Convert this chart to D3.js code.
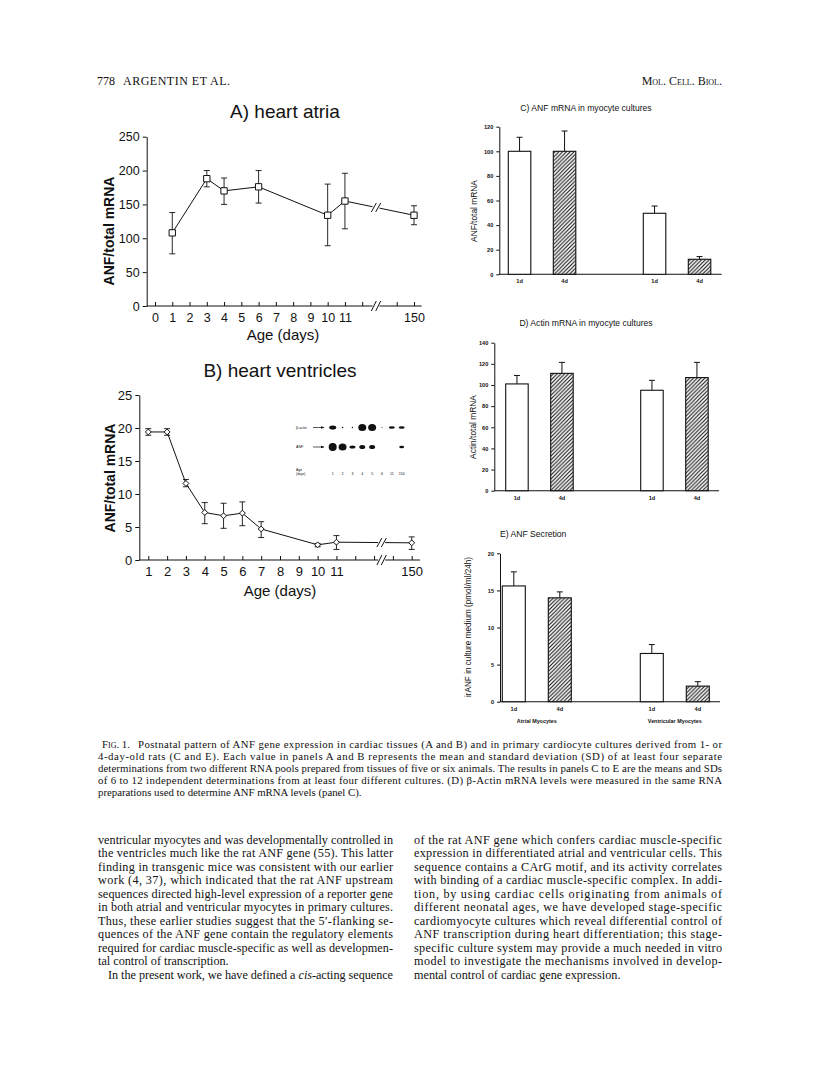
<!DOCTYPE html>
<html>
<head>
<meta charset="utf-8">
<script src="https://cdn.jsdelivr.net/npm/d3@7"></script>
<style>
    body { margin: 0; background: #fff; }
    svg { display: block; }
</style>
</head>
<body>
<svg id="page" width="816" height="1069"></svg>
<script>
'use strict';

// ---- data -------------------------------------------------------------

// A) heart atria
const atriaDays = [1, 3, 4, 6, 10, 11, 150];
const atriaMean = [108, 188, 170, 176, 134, 155, 134];
const atriaLow = [77, 176, 150, 152, 89, 114, 120];
const atriaHigh = [138, 200, 189, 200, 180, 196, 148];
const atriaTickDays = [0, 1, 2, 3, 4, 5, 6, 7, 8, 9, 10, 11, 150];
const atriaYTicks = [0, 50, 100, 150, 200, 250];

// B) heart ventricles
const ventDays = [1, 2, 3, 4, 5, 6, 7, 10, 11, 150];
const ventMean = [19.4, 19.4, 11.6, 7.2, 6.7, 7.1, 4.7, 2.3, 2.7, 2.6];
const ventLow = [18.9, 18.9, 11.1, 5.5, 4.8, 5.2, 3.4, 2.0, 1.6, 1.6];
const ventHigh = [19.9, 19.9, 12.2, 8.7, 8.6, 8.8, 5.8, 2.5, 3.7, 3.5];
const ventTickDays = [1, 2, 3, 4, 5, 6, 7, 8, 9, 10, 11, 150];
const ventYTicks = [0, 5, 10, 15, 20, 25];

// inset northern blot (B)
const blotLanes = ['1', '2', '3', '4', '5', '6', '11', '150'];
const actinBandW = [7, 1.5, 1.5, 8, 8, 1, 6, 6];
const actinBandH = [4, 1.5, 1.5, 7, 7, 1, 2.5, 2.5];
const anfBandW = [8, 8, 6, 6, 6, 0, 0, 5];
const anfBandH = [8, 7, 3, 4, 4, 0, 0, 2.5];

// C-E) cultures
const barGroups = ['Atrial Myocytes', 'Atrial Myocytes', 'Ventricular Myocytes', 'Ventricular Myocytes'];
const barAges = ['1d', '4d', '1d', '4d'];
const anfCulture = [100, 100, 49.6, 12.2];
const anfCultureTop = [111.4, 116.5, 55.5, 14.4];
const actinCulture = [101, 111, 95, 107];
const actinCultureTop = [109, 121.4, 104.4, 121.4];
const anfSecretion = [15.6, 14.0, 6.5, 2.1];
const anfSecretionTop = [17.5, 14.8, 7.7, 2.7];

// text
const captionLines = [
    'Postnatal pattern of ANF gene expression in cardiac tissues (A and B) and in primary cardiocyte cultures derived from 1- or',
    '4-day-old rats (C and E). Each value in panels A and B represents the mean and standard deviation (SD) of at least four separate',
    'determinations from two different RNA pools prepared from tissues of five or six animals. The results in panels C to E are the means and SDs',
    'of 6 to 12 independent determinations from at least four different cultures. (D) \u03b2-Actin mRNA levels were measured in the same RNA',
    'preparations used to determine ANF mRNA levels (panel C).'
];
const leftColumn = [
    'ventricular myocytes and was developmentally controlled in',
    'the ventricles much like the rat ANF gene (55). This latter',
    'finding in transgenic mice was consistent with our earlier',
    'work (4, 37), which indicated that the rat ANF upstream',
    'sequences directed high-level expression of a reporter gene',
    'in both atrial and ventricular myocytes in primary cultures.',
    'Thus, these earlier studies suggest that the 5\u2032-flanking se-',
    'quences of the ANF gene contain the regulatory elements',
    'required for cardiac muscle-specific as well as developmen-',
    'tal control of transcription.'
];
const rightColumn = [
    'of the rat ANF gene which confers cardiac muscle-specific',
    'expression in differentiated atrial and ventricular cells. This',
    'sequence contains a CArG motif, and its activity correlates',
    'with binding of a cardiac muscle-specific complex. In addi-',
    'tion, by using cardiac cells originating from animals of',
    'different neonatal ages, we have developed stage-specific',
    'cardiomyocyte cultures which reveal differential control of',
    'ANF transcription during heart differentiation; this stage-',
    'specific culture system may provide a much needed in vitro',
    'model to investigate the mechanisms involved in develop-',
    'mental control of cardiac gene expression.'
];

// ---- layout -----------------------------------------------------------

const SANS = 'Liberation Sans, Arial, Helvetica, sans-serif';
const SERIF = 'Liberation Serif, Times New Roman, serif';
const INK = '#111';

const svg = d3.select('#page');

const defs = svg.append('defs');
const hatch = defs.append('pattern')
    .attr('id', 'hatch')
    .attr('patternUnits', 'userSpaceOnUse')
    .attr('width', 3.8)
    .attr('height', 3.8);
hatch.append('rect').attr('width', 3.8).attr('height', 3.8).attr('fill', '#fff');
hatch.append('path')
    .attr('d', 'M-1,1 L1,-1 M0,3.8 L3.8,0 M2.8,4.8 L4.8,2.8')
    .attr('stroke', INK)
    .attr('stroke-width', 1.1);

// days after 11 are squeezed behind the axis break
const slot = (day) => day === 150 ? 15 : day;

function breakMarks(g, x, y, h) {
    [-2.2, 2.2].forEach((dx) => {
        g.append('line')
            .attr('x1', x + dx - 2.5).attr('y1', y + h / 2)
            .attr('x2', x + dx + 2.5).attr('y2', y - h / 2)
            .attr('stroke', INK)
            .attr('stroke-width', 1);
    });
}

function linePanel(o) {
    const g = svg.append('g');

    const x = d3.scaleLinear().domain(o.xDomain).range(o.xRange);
    const y = d3.scaleLinear().domain(o.yDomain).range(o.yRange);

    // title
    g.append('text')
        .attr('x', o.titleX).attr('y', o.titleY)
        .attr('text-anchor', 'middle')
        .style('font', `19px ${SANS}`)
        .attr('fill', INK)
        .text(o.title);

    // y axis
    const gy = g.append('g')
        .attr('transform', `translate(${o.axisX},0)`)
        .call(d3.axisLeft(y).tickValues(o.yTicks).tickSize(4).tickSizeOuter(0).tickPadding(3));
    gy.selectAll('text').style('font', `${o.tickFont}px ${SANS}`).attr('fill', INK);

    // x axis (domain drawn by hand because of the break)
    const gx = g.append('g')
        .attr('transform', `translate(0,${y(0)})`)
        .call(d3.axisBottom(x)
            .tickValues(o.tickDays.map(slot).concat(o.minorSlots))
            .tickFormat((s) => s === 15 ? '150' : (o.minorSlots.includes(s) ? '' : String(s)))
            .tickSizeInner(-4)
            .tickSizeOuter(0)
            .tickPadding(7));
    gx.select('.domain').remove();
    gx.selectAll('text').style('font', `${o.tickFont}px ${SANS}`).attr('fill', INK);
    gx.selectAll('line').attr('stroke', INK);
    gy.selectAll('line, path').attr('stroke', INK);

    const bx = x(o.breakSlot);
    g.append('line')
        .attr('x1', o.axisX).attr('x2', bx - 3.5)
        .attr('y1', y(0)).attr('y2', y(0))
        .attr('stroke', INK);
    g.append('line')
        .attr('x1', bx + 3.5).attr('x2', o.axisEnd)
        .attr('y1', y(0)).attr('y2', y(0))
        .attr('stroke', INK);
    breakMarks(g, bx, y(0), 10);

    g.append('text')
        .attr('x', o.xLabelX).attr('y', o.xLabelY)
        .attr('text-anchor', 'middle')
        .style('font', `15px ${SANS}`)
        .attr('fill', INK)
        .text('Age (days)');

    g.append('text')
        .attr('transform', `translate(${o.yLabelX},${o.yLabelY}) rotate(-90)`)
        .attr('text-anchor', 'middle')
        .style('font', `bold 14px ${SANS}`)
        .attr('fill', INK)
        .text('ANF/total mRNA');

    const pts = o.days.map((d, i) => ({
        x: x(slot(d)), y: y(o.mean[i]), lo: y(o.low[i]), hi: y(o.high[i])
    }));

    // connecting line, interrupted at the break
    const before = pts.filter((p) => p.x < bx);
    const last = before[before.length - 1];
    const end = pts[pts.length - 1];
    const yAt = (px) => last.y + (end.y - last.y) * (px - last.x) / (end.x - last.x);

    g.append('path')
        .datum(before.concat([{x: bx - 3.5, y: yAt(bx - 3.5)}]))
        .attr('d', d3.line().x((p) => p.x).y((p) => p.y))
        .attr('fill', 'none')
        .attr('stroke', INK)
        .attr('stroke-width', 1);
    g.append('line')
        .attr('x1', bx + 3.5).attr('y1', yAt(bx + 3.5))
        .attr('x2', end.x).attr('y2', end.y)
        .attr('stroke', INK);
    breakMarks(g, bx, yAt(bx), 9);

    // error bars
    const eb = g.selectAll('.err').data(pts).enter().append('g').attr('class', 'err');
    eb.append('line')
        .attr('x1', (p) => p.x).attr('x2', (p) => p.x)
        .attr('y1', (p) => p.lo).attr('y2', (p) => p.hi)
        .attr('stroke', INK).attr('stroke-width', 0.9);
    ['lo', 'hi'].forEach((k) => {
        eb.append('line')
            .attr('x1', (p) => p.x - 3).attr('x2', (p) => p.x + 3)
            .attr('y1', (p) => p[k]).attr('y2', (p) => p[k])
            .attr('stroke', INK).attr('stroke-width', 0.9);
    });

    // markers
    g.selectAll('.mark').data(pts).enter().append('path')
        .attr('class', 'mark')
        .attr('transform', (p) => `translate(${p.x},${p.y})`)
        .attr('d', d3.symbol(o.symbol, o.symbolSize))
        .attr('fill', '#fff')
        .attr('stroke', INK)
        .attr('stroke-width', 1);

    return g;
}

linePanel({
    title: 'A)  heart atria', titleX: 285, titleY: 118,
    days: atriaDays, mean: atriaMean, low: atriaLow, high: atriaHigh,
    tickDays: atriaTickDays, minorSlots: [12, 14], yTicks: atriaYTicks,
    xDomain: [0, 15], xRange: [155, 414],
    yDomain: [0, 250], yRange: [306, 136.7],
    axisX: 146.7, axisEnd: 421.7, breakSlot: 12.8,
    tickFont: 12.5,
    xLabelX: 283, xLabelY: 340,
    yLabelX: 114, yLabelY: 231,
    symbol: d3.symbolSquare, symbolSize: 40
});

linePanel({
    title: 'B) heart ventricles', titleX: 280, titleY: 376.5,
    days: ventDays, mean: ventMean, low: ventLow, high: ventHigh,
    tickDays: ventTickDays, minorSlots: [12, 13, 14], yTicks: ventYTicks,
    xDomain: [1, 15], xRange: [148.3, 411.7],
    yDomain: [0, 25], yRange: [560, 395],
    axisX: 139.3, axisEnd: 420, breakSlot: 13.4,
    tickFont: 13,
    xLabelX: 280, xLabelY: 596,
    yLabelX: 115, yLabelY: 478,
    symbol: d3.symbolDiamond2 || d3.symbolCircle, symbolSize: 22
});

// inset blot
(function drawBlot() {
    const g = svg.append('g');
    const lane = d3.scalePoint().domain(blotLanes).range([332.7, 401.7]);
    const rows = [
        {name: '\u03b2-actin', y: 427.5, w: actinBandW, h: actinBandH},
        {name: 'ANF', y: 447, w: anfBandW, h: anfBandH}
    ];
    rows.forEach((r) => {
        g.append('text')
            .attr('x', 296).attr('y', r.y + 1.2)
            .style('font', `3.6px ${SANS}`).attr('fill', INK)
            .text(r.name);
        g.append('line')
            .attr('x1', 313).attr('x2', 324)
            .attr('y1', r.y).attr('y2', r.y)
            .attr('stroke', INK).attr('stroke-width', 0.7);
        g.append('path')
            .attr('d', `M321,${r.y - 1.3} L324.5,${r.y} L321,${r.y + 1.3} Z`)
            .attr('fill', INK);
        g.selectAll(null).data(blotLanes).enter().append('ellipse')
            .attr('cx', (l) => lane(l))
            .attr('cy', r.y)
            .attr('rx', (l, i) => r.w[i] / 2)
            .attr('ry', (l, i) => r.h[i] / 2)
            .attr('fill', INK);
    });
    g.append('text').attr('x', 296).attr('y', 471)
        .style('font', `3.4px ${SANS}`).attr('fill', INK).text('Age');
    g.append('text').attr('x', 296).attr('y', 474.5)
        .style('font', `3.4px ${SANS}`).attr('fill', INK).text('(days)');
    g.selectAll(null).data(blotLanes).enter().append('text')
        .attr('x', (l) => lane(l))
        .attr('y', 474.5)
        .attr('text-anchor', 'middle')
        .style('font', `3.6px ${SANS}`).attr('fill', INK)
        .text((l) => l);
})();

function barPanel(o) {
    const g = svg.append('g');

    // two bars per group, one empty slot between groups
    const groups = Array.from(new Set(barGroups));
    const ages = Array.from(new Set(barAges));
    const slots = barGroups.map((grp, i) => groups.indexOf(grp) * (ages.length + 1) + ages.indexOf(barAges[i]));
    const x = d3.scaleLinear().domain([0, 1]).range([o.firstBar, o.firstBar + o.slotWidth]);
    const bw = o.slotWidth / 2;
    const y = d3.scaleLinear().domain(o.yDomain).range(o.yRange);

    g.append('text')
        .attr('x', o.titleX).attr('y', o.titleY)
        .attr('text-anchor', o.titleAnchor)
        .style('font', `8.6px ${SANS}`)
        .attr('fill', INK)
        .text(o.title);

    const gy = g.append('g')
        .attr('transform', `translate(${o.axisX},0)`)
        .call(d3.axisLeft(y).tickValues(o.yTicks).tickSize(3).tickSizeOuter(0).tickPadding(3));
    gy.selectAll('text').style('font', `bold 5.6px ${SANS}`).attr('fill', INK);
    gy.selectAll('line, path').attr('stroke', INK);

    g.append('line')
        .attr('x1', o.axisX).attr('x2', o.axisEnd)
        .attr('y1', y(0)).attr('y2', y(0))
        .attr('stroke', INK).attr('stroke-width', 1.1);

    g.append('text')
        .attr('transform', `translate(${o.yLabelX},${o.yLabelY}) rotate(-90)`)
        .attr('text-anchor', 'middle')
        .style('font', `${o.yLabelFont}px ${SANS}`)
        .attr('fill', INK)
        .text(o.yLabel);

    const bars = o.values.map((v, i) => ({
        x: x(slots[i]), v: v, top: o.tops[i], age: barAges[i], group: barGroups[i]
    }));

    g.selectAll('.err').data(bars).enter().append('path')
        .attr('class', 'err')
        .attr('d', (b) => `M${b.x + bw / 2},${y(b.v)} V${y(b.top)} M${b.x + bw / 2 - 3},${y(b.top)} H${b.x + bw / 2 + 3}`)
        .attr('stroke', INK)
        .attr('stroke-width', 1)
        .attr('fill', 'none');

    g.selectAll('.bar').data(bars).enter().append('rect')
        .attr('class', 'bar')
        .attr('x', (b) => b.x)
        .attr('y', (b) => y(b.v))
        .attr('width', bw)
        .attr('height', (b) => y(0) - y(b.v))
        .attr('fill', (b) => b.age === '4d' ? 'url(#hatch)' : '#fff')
        .attr('stroke', INK)
        .attr('stroke-width', 1.1);

    g.selectAll('.age').data(bars).enter().append('text')
        .attr('class', 'age')
        .attr('x', (b) => b.x + bw / 2)
        .attr('y', y(0) + 9)
        .attr('text-anchor', 'middle')
        .style('font', `bold 5.6px ${SANS}`)
        .attr('fill', INK)
        .text((b) => b.age);

    if (o.groupLabels) {
        groups.forEach((grp) => {
            const gb = bars.filter((b) => b.group === grp);
            const cx = (gb[0].x + gb[gb.length - 1].x + bw) / 2;
            g.append('text')
                .attr('x', cx)
                .attr('y', y(0) + 21)
                .attr('text-anchor', 'middle')
                .style('font', `bold 5.4px ${SANS}`)
                .attr('fill', INK)
                .text(grp);
        });
    }
}

barPanel({
    title: 'C) ANF mRNA in myocyte cultures', titleX: 586, titleY: 111, titleAnchor: 'middle',
    values: anfCulture, tops: anfCultureTop,
    yDomain: [0, 120], yRange: [274.3, 126.7], yTicks: d3.range(0, 121, 20),
    axisX: 499.3, axisEnd: 721.7, firstBar: 508.3, slotWidth: 45,
    yLabel: 'ANF/total mRNA', yLabelX: 477, yLabelY: 211, yLabelFont: 8.4
});

barPanel({
    title: 'D) Actin mRNA in myocyte cultures', titleX: 586, titleY: 326, titleAnchor: 'middle',
    values: actinCulture, tops: actinCultureTop,
    yDomain: [0, 140], yRange: [490.7, 342.7], yTicks: d3.range(0, 141, 20),
    axisX: 494.3, axisEnd: 719, firstBar: 505.7, slotWidth: 45,
    yLabel: 'Actin/total mRNA', yLabelX: 476, yLabelY: 427, yLabelFont: 8.4
});

barPanel({
    title: 'E) ANF Secretion', titleX: 500, titleY: 537, titleAnchor: 'start',
    values: anfSecretion, tops: anfSecretionTop,
    yDomain: [0, 20], yRange: [701.7, 553.3], yTicks: d3.range(0, 21, 5),
    axisX: 500, axisEnd: 720, firstBar: 502.3, slotWidth: 46,
    yLabel: 'irANF in culture medium (pmol/ml/24h)', yLabelX: 471, yLabelY: 627, yLabelFont: 8.2,
    groupLabels: true
});

// ---- page text --------------------------------------------------------

const header = svg.append('g').style('font', `12px ${SERIF}`).attr('fill', INK);
header.append('text').attr('x', 97).attr('y', 85).text('778');
header.append('text').attr('x', 123).attr('y', 85).style('letter-spacing', '0.5px').text('ARGENTIN  ET  AL.');
header.append('text').attr('x', 722).attr('y', 85)
    .attr('text-anchor', 'end')
    .style('font-variant', 'small-caps')
    .text('Mol. Cell. Biol.');

function justified(g, lines, x0, width, y0, step, size, lastFree) {
    lines.forEach((line, i) => {
        const t = g.append('text')
            .attr('x', x0)
            .attr('y', y0 + i * step)
            .style('font', `${size}px ${SERIF}`)
            .attr('fill', INK)
            .text(line);
        if (!(lastFree && i === lines.length - 1)) {
            t.attr('textLength', width).attr('lengthAdjust', 'spacing');
        }
    });
}

const caption = svg.append('g');
caption.append('text')
    .attr('x', 102).attr('y', 748)
    .style('font', `10.8px ${SERIF}`)
    .style('font-variant', 'small-caps')
    .attr('fill', INK)
    .text('Fig. 1.');
justified(caption, captionLines.slice(0, 1), 138, 584, 748, 12, 10.8, false);
justified(caption, captionLines.slice(1), 98, 624, 760, 12, 10.8, true);

const body = svg.append('g');
justified(body, leftColumn, 98, 295, 844, 13.45, 12.2, true);
body.append('text')
    .attr('x', 108).attr('y', 844 + 10 * 13.45)
    .attr('textLength', 285).attr('lengthAdjust', 'spacing')
    .style('font', `12.2px ${SERIF}`)
    .attr('fill', INK)
    .call((t) => {
        t.append('tspan').text('In the present work, we have defined a ');
        t.append('tspan').style('font-style', 'italic').text('cis');
        t.append('tspan').text('-acting sequence');
    });
justified(body, rightColumn, 414, 308, 844, 13.45, 12.2, true);
</script>
</body>
</html>
